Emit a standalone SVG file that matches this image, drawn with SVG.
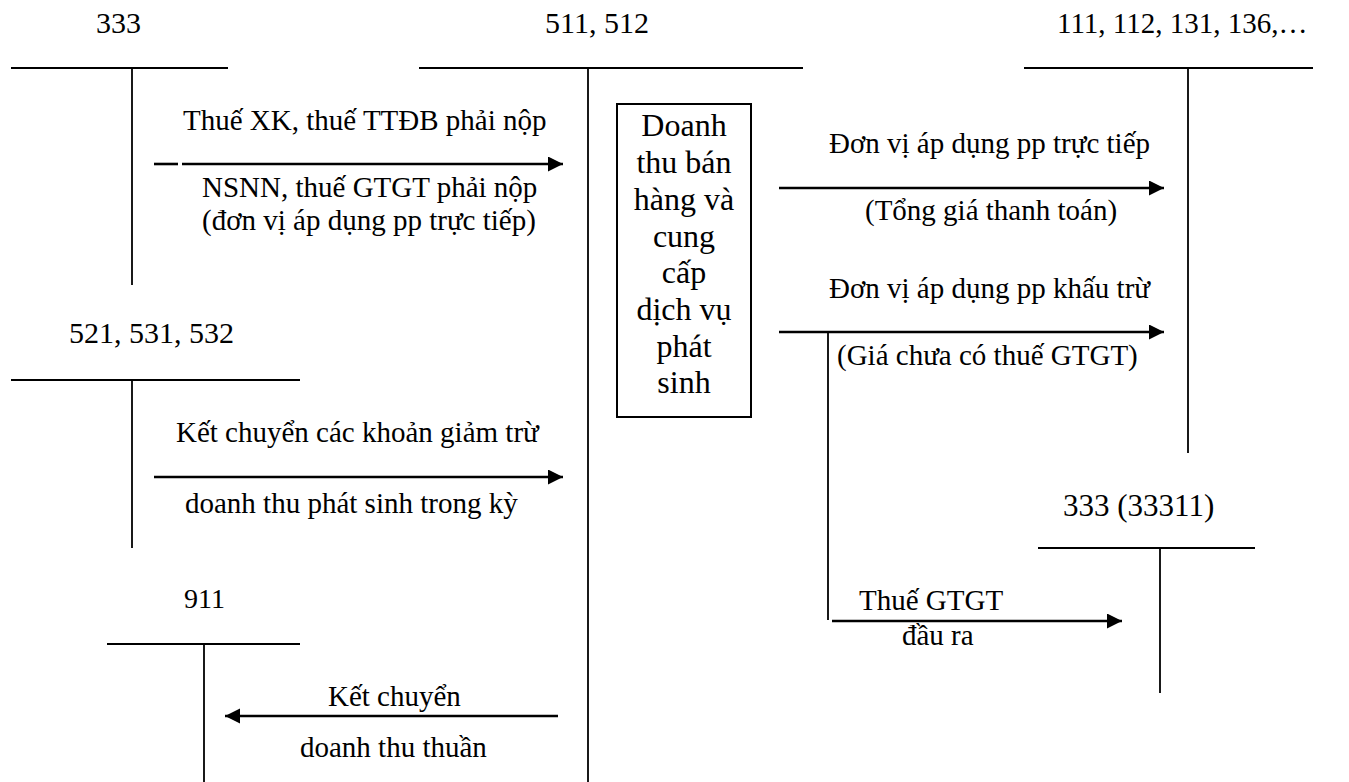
<svg xmlns="http://www.w3.org/2000/svg" width="1349" height="782" viewBox="0 0 1349 782">
  <style>
    text { font-family: "Liberation Serif", "Times New Roman", serif; fill: #000; }
    .acct { font-size: 30px; }
    .lbl { font-size: 29px; }
    .box { font-size: 32px; text-anchor: middle; }
    .t { stroke: #000; stroke-width: 1.8; fill: none; }
    .c { stroke: #000; stroke-width: 2.6; fill: none; }
    .cthin { stroke: #000; stroke-width: 1.8; fill: none; }
  </style>
  <defs>
    <marker id="ah" markerUnits="userSpaceOnUse" markerWidth="16" markerHeight="16" refX="15" refY="7.5" orient="auto">
      <path d="M0,0 L15,7.5 L0,15 z" fill="#000"/>
    </marker>
  </defs>
  <rect width="1349" height="782" fill="#fff"/>

  <g id="acct-333">
    <text class="acct" x="96" y="33">333</text>
    <line class="t" x1="11" y1="68" x2="228" y2="68"/>
    <line class="t" x1="132" y1="68" x2="132" y2="285"/>
  </g>

  <g id="acct-511-512">
    <text class="acct" x="545" y="33">511, 512</text>
    <line class="t" x1="419" y1="68" x2="803" y2="68"/>
    <line class="t" x1="588" y1="68" x2="588" y2="782"/>
  </g>

  <g id="acct-111">
    <text class="lbl" x="1057" y="33">111, 112, 131, 136,…</text>
    <line class="t" x1="1024" y1="68" x2="1313" y2="68"/>
    <line class="t" x1="1188" y1="68" x2="1188" y2="453"/>
  </g>

  <g id="acct-521">
    <text class="acct" x="69" y="343">521, 531, 532</text>
    <line class="t" x1="11" y1="380" x2="300" y2="380"/>
    <line class="t" x1="132" y1="380" x2="132" y2="548"/>
  </g>

  <g id="acct-911">
    <text class="acct" x="184" y="608" style="font-size:28px">911</text>
    <line class="t" x1="107" y1="644" x2="300" y2="644"/>
    <line class="t" x1="204" y1="644" x2="204" y2="782"/>
  </g>

  <g id="acct-33311">
    <text class="acct" x="1063" y="516" style="font-size:31px">333 (33311)</text>
    <line class="t" x1="1038" y1="548" x2="1255" y2="548"/>
    <line class="t" x1="1160" y1="548" x2="1160" y2="693"/>
  </g>

  <g id="revenue-box">
    <rect x="617" y="104" width="134" height="313" fill="none" stroke="#000" stroke-width="2"/>
    <text class="box" x="684" y="136">Doanh</text>
    <text class="box" x="684" y="173">thu bán</text>
    <text class="box" x="684" y="210">hàng và</text>
    <text class="box" x="684" y="247">cung</text>
    <text class="box" x="684" y="283">cấp</text>
    <text class="box" x="684" y="320">dịch vụ</text>
    <text class="box" x="684" y="357">phát</text>
    <text class="box" x="684" y="393">sinh</text>
  </g>

  <g id="connectors">
    <line class="c" x1="154" y1="164" x2="178" y2="164"/>
    <line class="c" x1="182" y1="164" x2="563" y2="164" marker-end="url(#ah)"/>
    <line class="c" x1="154" y1="477" x2="563" y2="477" marker-end="url(#ah)"/>
    <line class="c" x1="558" y1="716" x2="225" y2="716" marker-end="url(#ah)"/>
    <line class="c" x1="779" y1="188" x2="1164" y2="188" marker-end="url(#ah)"/>
    <line class="c" x1="779" y1="332" x2="1164" y2="332" marker-end="url(#ah)"/>
    <line class="cthin" x1="828" y1="332" x2="828" y2="620"/>
    <line class="c" x1="832" y1="621" x2="1122" y2="621" marker-end="url(#ah)"/>
  </g>

  <g id="labels">
    <text class="lbl" x="183" y="130">Thuế XK, thuế TTĐB phải nộp</text>
    <text class="lbl" x="202" y="197">NSNN, thuế GTGT phải nộp</text>
    <text class="lbl" x="202" y="230">(đơn vị áp dụng pp trực tiếp)</text>
    <text class="lbl" x="829" y="153">Đơn vị áp dụng pp trực tiếp</text>
    <text class="lbl" x="865" y="220">(Tổng giá thanh toán)</text>
    <text class="lbl" x="829" y="298">Đơn vị áp dụng pp khấu trừ</text>
    <text class="lbl" x="837" y="365">(Giá chưa có thuế GTGT)</text>
    <text class="lbl" x="176" y="442">Kết chuyển các khoản giảm trừ</text>
    <text class="lbl" x="185" y="513">doanh thu phát sinh trong kỳ</text>
    <text class="lbl" x="859" y="610">Thuế GTGT</text>
    <text class="lbl" x="902" y="645">đầu ra</text>
    <text class="lbl" x="328" y="706">Kết chuyển</text>
    <text class="lbl" x="300" y="757">doanh thu thuần</text>
  </g>
</svg>
